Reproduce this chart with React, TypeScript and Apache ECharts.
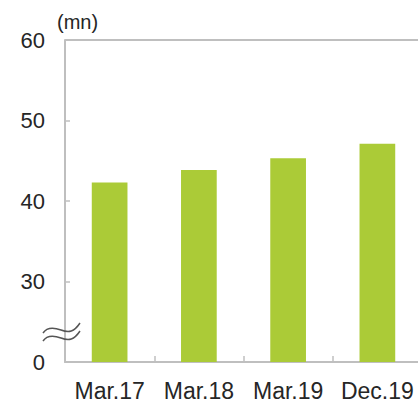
import React, { useEffect, useRef } from "react";
import * as echarts from "echarts";

const categories = ["Mar.17", "Mar.18", "Mar.19", "Dec.19"];
const values = [42.3, 43.85, 45.3, 47.1];
const yMin = 20;
const yMax = 60;
const yInterval = 10;
const unitLabel = "(mn)";

const wavePath = "M0 5 C4 -1 10 -1 18 2 C26 5 31 4 37 -5";
echarts.graphic.registerShape(
  "wave",
  echarts.graphic.extendPath(wavePath, {}) as any
);

export default function App() {
  const ref = useRef<HTMLDivElement>(null);
  useEffect(() => {
    if (!ref.current) return;
    const chart = echarts.init(ref.current, null, { renderer: "svg" });
    const axisColor = "#bfbfbf";
    const textColor = "#262626";
    const font = "'Liberation Sans', Arial, sans-serif";
    chart.setOption({
      animation: false,
      grid: { left: 65, right: -4, top: 40, bottom: 41, containLabel: false, outerBoundsMode: "none" },
      xAxis: {
        type: "category",
        data: categories,
        boundaryGap: true,
        axisLine: { show: true, lineStyle: { color: axisColor, width: 2 } },
        axisTick: { show: true, inside: true, length: 6, lineStyle: { color: axisColor, width: 1.5 } },
        axisLabel: { color: textColor, fontSize: 23, fontFamily: font, margin: 17, interval: 0, hideOverlap: false },
        splitLine: { show: false },
      },
      yAxis: {
        type: "value",
        min: yMin,
        max: yMax,
        interval: yInterval,
        name: unitLabel,
        nameLocation: "end",
        nameGap: 8,
        nameTextStyle: { color: textColor, fontSize: 20, fontFamily: font, align: "left", padding: [0, 0, 0, -8] },
        axisLine: { show: true, lineStyle: { color: axisColor, width: 2 } },
        axisTick: { show: true, inside: true, length: 5, lineStyle: { color: axisColor, width: 1.5 } },
        axisLabel: {
          color: textColor,
          fontSize: 22,
          fontFamily: font,
          margin: 20,
          formatter: (v: number) => (v === yMin ? "0" : String(v)),
        },
        splitLine: {
          show: true,
          lineStyle: { color: ["transparent", "transparent", "transparent", "transparent", axisColor], width: 2 },
        },
      },
      series: [
        {
          type: "bar",
          data: values,
          barWidth: "40%",
          itemStyle: { color: "#abcb37" },
        },
      ],
      graphic: [
        {
          type: "wave",
          x: 43,
          y: 328,
          z: 100,
          style: { stroke: "#555555", lineWidth: 1.5, fill: "none" },
        },
        {
          type: "wave",
          x: 43,
          y: 336,
          z: 100,
          style: { stroke: "#555555", lineWidth: 1.5, fill: "none" },
        },
      ],
    });
    return () => chart.dispose();
  }, []);
  return (
    <div
      ref={ref}
      style={{ position: "absolute", left: 0, top: 0, width: 418, height: 403, overflow: "hidden" }}
    />
  );
}
